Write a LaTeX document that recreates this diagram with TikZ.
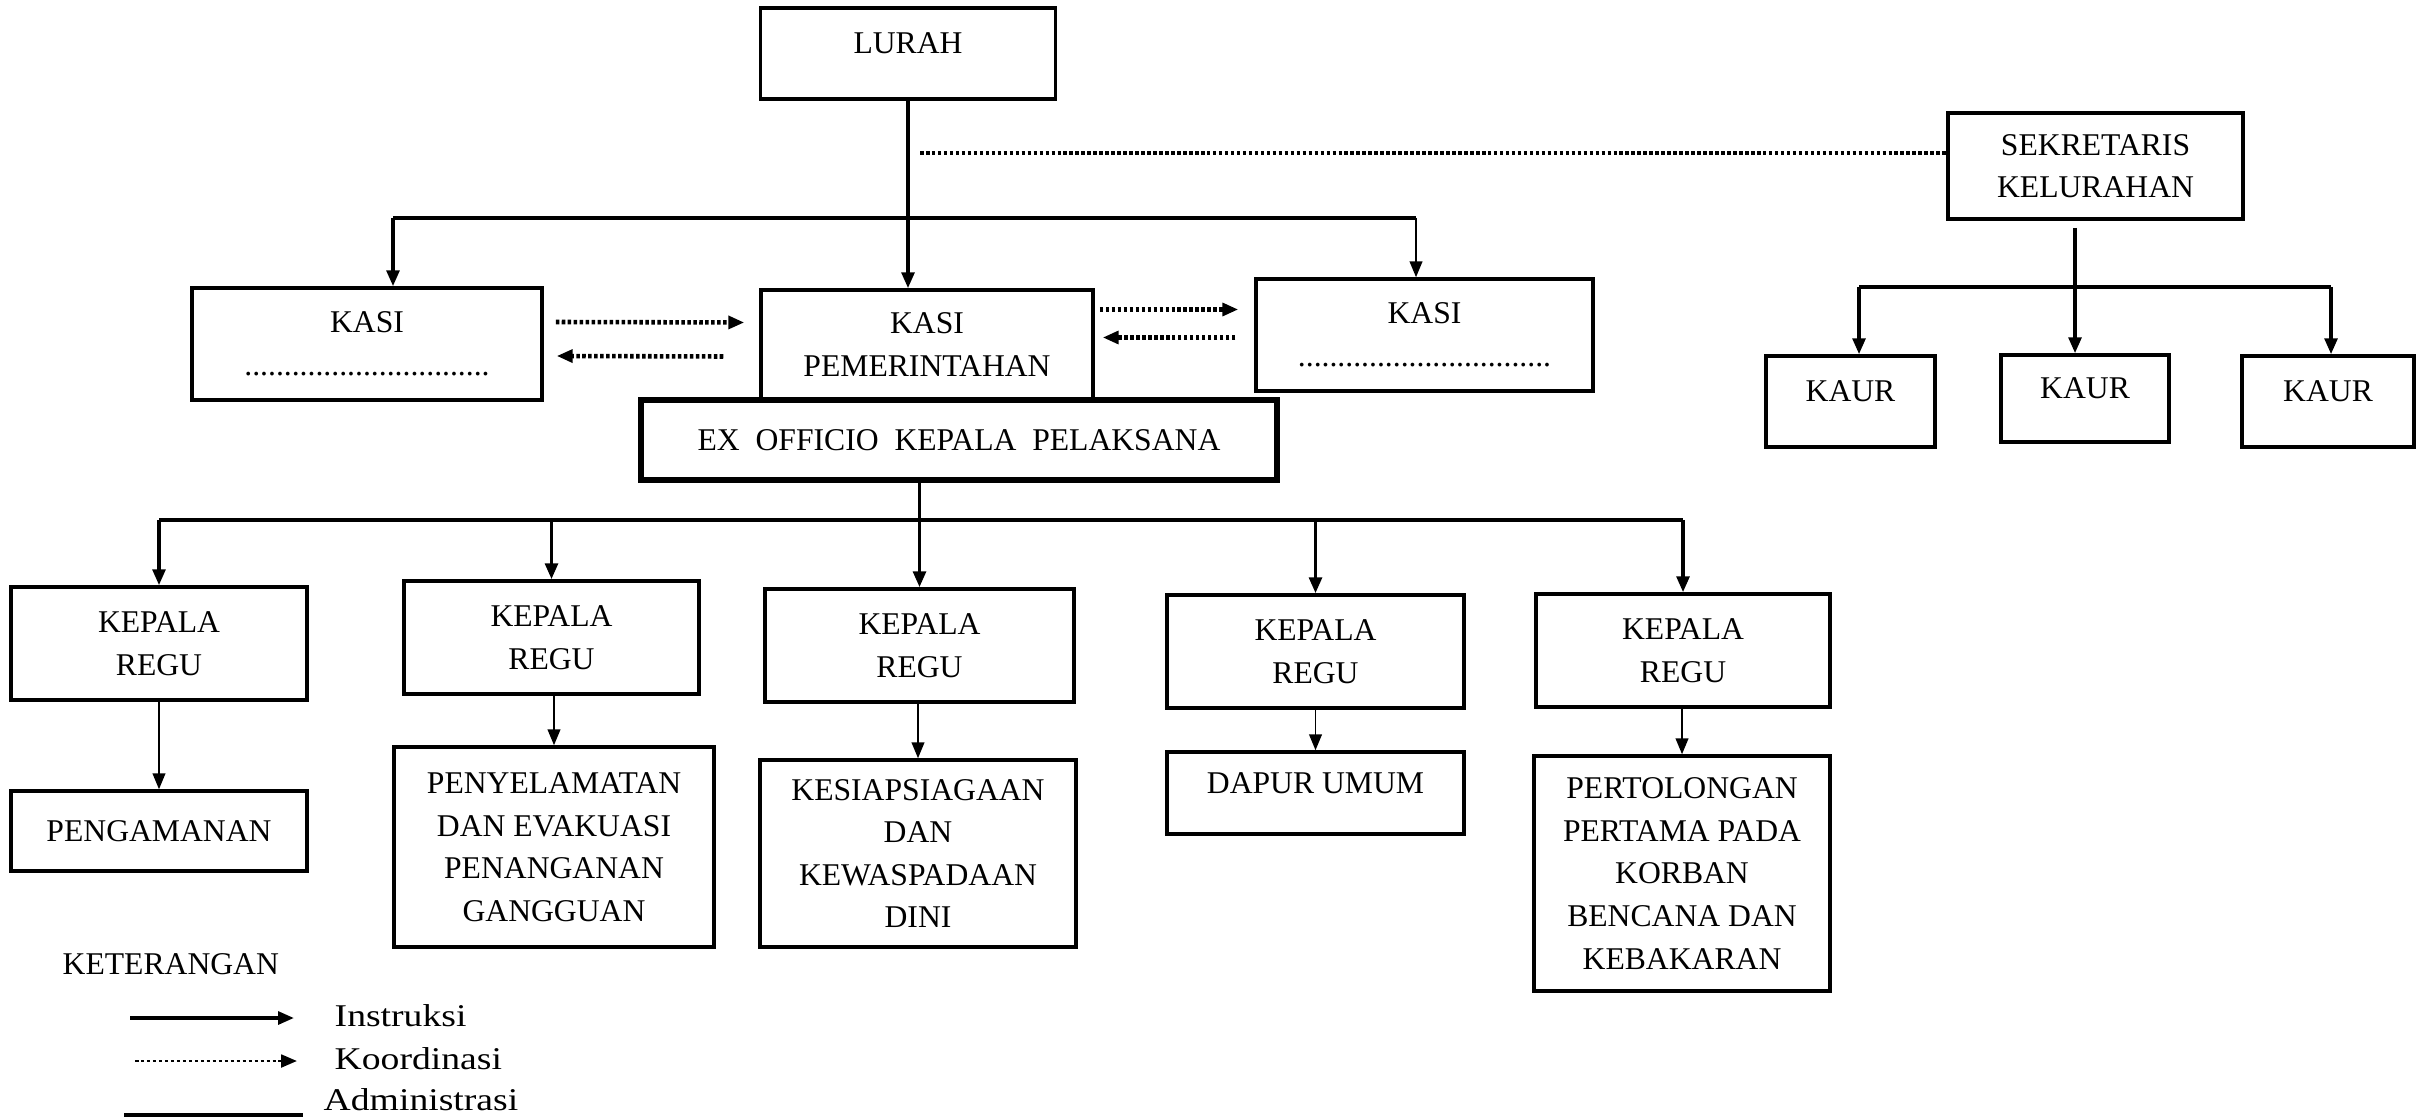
\documentclass[tikz,border=0pt]{standalone}
\usepackage{fontspec}
\setmainfont{Liberation Serif}
\newfontfamily\legendfont[FakeStretch=1.19]{Liberation Serif}
\usetikzlibrary{arrows.meta, calc}

\begin{document}
\begin{tikzpicture}[x=0.01cm, y=-0.01cm, >={Triangle[length=4.5pt, width=3.6pt]},
  font=\fontsize{9pt}{12.1pt}\selectfont,
  unit/.style 2 args={draw, line width=1pt, inner sep=0pt, align=center,
    minimum width=#1*0.01cm, minimum height=#2*0.01cm},
  raised/.style={text height=6pt, text depth=6pt},
  instr/.style={->, line width=1pt},
  thinarr/.style={->, line width=0.5pt},
  bus/.style={line width=1.1pt},
  coord/.style={->, line width=1.3pt, dash pattern=on 1pt off 0.7pt},
  legend/.style={anchor=west, inner sep=0pt, font=\legendfont\fontsize{9pt}{12.1pt}\selectfont}]
  \useasboundingbox (0,0) rectangle (2419,1119);

  % top level
  \node[unit={295}{91}, raised] (lurah) at (908,53.5) {LURAH};
  \node[unit={295}{106}] (sek) at (2095.5,166) {SEKRETARIS\\KELURAHAN};
  \node[unit={350}{112}] (kasil) at (367,344) {KASI\\...............................};
  \node[unit={332}{109}] (kasip) at (927,344.5) {KASI\\PEMERINTAHAN};
  \node[unit={337}{112}] (kasir) at (1424.5,335) {KASI\\................................};
  \node[unit={636}{80}, line width=1.8pt] (exo) at (959,440) {EX\ \ OFFICIO\ \ KEPALA\ \ PELAKSANA};
  \node[unit={169}{91}, raised] (kaur1) at (1850.5,401.5) {KAUR};
  \node[unit={168}{87}, raised] (kaur2) at (2085,398.5) {KAUR};
  \node[unit={172}{91}, raised] (kaur3) at (2328,401.5) {KAUR};

  % kepala regu and tasks
  \foreach \i/\x/\y/\w in {1/159/643.5/296, 2/551.5/637.5/295, 3/919.5/645.5/309, 4/1315.5/651.5/297, 5/1683/650.5/294}
    \node[unit={\w}{113}] (kr\i) at (\x,\y) {KEPALA\\REGU};
  \node[unit={296}{80}] (sub1) at (159,831) {PENGAMANAN};
  \node[unit={320}{200}] (sub2) at (554,847) {PENYELAMATAN\\DAN EVAKUASI\\PENANGANAN\\GANGGUAN};
  \node[unit={316}{187}] (sub3) at (918,853.5) {KESIAPSIAGAAN\\DAN\\KEWASPADAAN\\DINI};
  \node[unit={297}{82}, raised] (sub4) at (1315.5,793) {DAPUR UMUM};
  \node[unit={296}{235}] (sub5) at (1682,873.5) {PERTOLONGAN\\PERTAMA PADA\\KORBAN\\BENCANA DAN\\KEBAKARAN};

  % lines from lurah
  \draw[instr] (lurah.south) -- (lurah.south |- kasip.north);
  \coordinate (dotA) at (920,153);
  \draw[coord, -] (dotA) -- (dotA -| sek.west);
  \coordinate (busL) at (393,218);
  \coordinate (busR) at (1416,218);
  \draw[bus] (busL) -- (busR);
  \draw[instr] (busL) -- (busL |- kasil.north);
  \draw[thinarr] (busR) -- (busR |- kasir.north);

  % koordinasi between kasi
  \draw[coord] ($(kasil.east)+(12,-22)$) -- ($(kasip.west)+(-15,-22)$);
  \draw[coord] ($(kasip.west)+(-36,12)$) -- ($(kasil.east)+(13,12)$);
  \draw[coord] ($(kasip.east)+(5,-35)$) -- ($(kasip.east -| kasir.west)+(-16,-35)$);
  \draw[coord] ($(kasip.east -| kasir.west)+(-19,-7)$) -- ($(kasip.east)+(8,-7)$);

  % sekretaris
  \coordinate (sekT) at (2075,228);
  \coordinate (kaurL) at (1859,287);
  \coordinate (kaurR) at (2331,287);
  \draw[instr] (sekT) -- (sekT |- kaur2.north);
  \draw[bus] (kaurL) -- (kaurR);
  \draw[instr] (kaurL) -- (kaurL |- kaur1.north);
  \draw[instr] (kaurR) -- (kaurR |- kaur3.north);

  % ex officio down to regu
  \draw[instr] (kr3.north |- exo.south) -- (kr3.north);
  \draw[bus] (kr1.north |- 0,520) -- (kr5.north |- 0,520);
  \foreach \i in {1,2,4,5}
    \draw[instr] (kr\i.north |- 0,520) -- (kr\i.north);
  \foreach \i in {1,...,5}
    \draw[thinarr] (sub\i.north |- kr\i.south) -- (sub\i.north);

  % keterangan
  \node[anchor=west, inner sep=0pt] (ket) at (62,964) {KETERANGAN};
  \node[legend] (ins) at (334,1016) {Instruksi};
  \node[legend] (kor) at (334,1059) {Koordinasi};
  \node[legend] (adm) at (323,1100) {Administrasi};
  \draw[instr] ($(ins.west)+(-204,2)$) -- ($(ins.west)+(-40,2)$);
  \draw[coord, line width=0.8pt] ($(kor.west)+(-199,2)$) -- ($(kor.west)+(-37,2)$);
  \draw[line width=1.3pt] ($(adm.west)+(-199,15)$) -- ($(adm.west)+(-20,15)$);
\end{tikzpicture}
\end{document}
